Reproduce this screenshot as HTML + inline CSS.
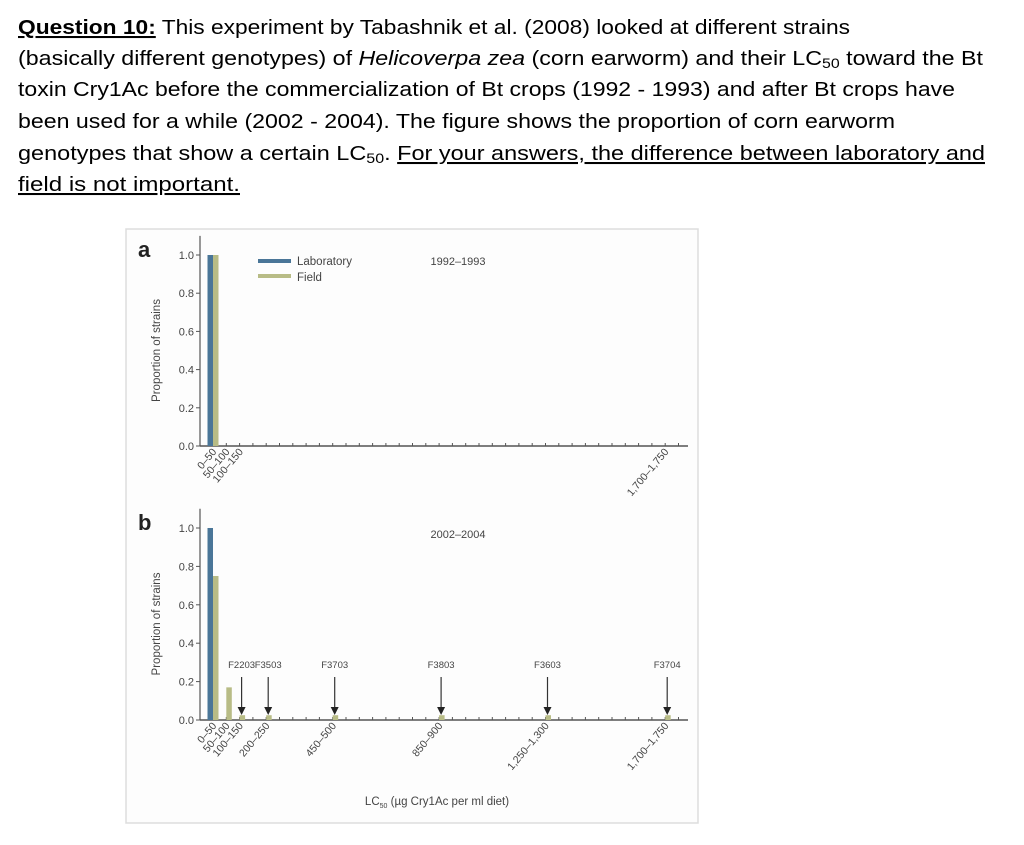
<!DOCTYPE html>
<html><head><meta charset="utf-8">
<style>
html,body{margin:0;padding:0;background:#fff;}
svg{display:block;}
.q{font-family:"Liberation Sans",sans-serif;font-size:20.5px;fill:#000;}
.c{font-family:"Liberation Sans",sans-serif;fill:#444;}
</style></head>
<body>
<svg id="root" width="1024" height="845" viewBox="0 0 1024 845" xmlns="http://www.w3.org/2000/svg">
<g>
<text class="q" x="18" y="34" textLength="832" lengthAdjust="spacingAndGlyphs"><tspan font-weight="bold" text-decoration="underline">Question 10:</tspan> This experiment by Tabashnik et al. (2008) looked at different strains</text>
<text class="q" x="18" y="65" textLength="965" lengthAdjust="spacingAndGlyphs">(basically different genotypes) of <tspan font-style="italic">Helicoverpa zea</tspan> (corn earworm) and their LC<tspan font-size="14" dy="3">50</tspan><tspan dy="-3"> toward   the Bt</tspan></text>
<text class="q" x="18" y="96" textLength="937" lengthAdjust="spacingAndGlyphs">toxin Cry1Ac before the commercialization of Bt crops (1992 - 1993) and after Bt  crops have</text>
<text class="q" x="18" y="128" textLength="877" lengthAdjust="spacingAndGlyphs">been used for a while (2002 - 2004). The figure shows the proportion of corn earworm</text>
<text class="q" x="18" y="160" textLength="967" lengthAdjust="spacingAndGlyphs">genotypes that show a certain LC<tspan font-size="14" dy="3">50</tspan><tspan dy="-3">. </tspan><tspan text-decoration="underline">For your answers, the difference between laboratory and  </tspan></text>
<text class="q" x="18" y="191" textLength="222" lengthAdjust="spacingAndGlyphs" text-decoration="underline">field is not important.</text>
</g>
<rect x="126" y="229" width="572" height="594" fill="#fdfdfd" stroke="#ddd" stroke-width="1.5"/>
<g id="chart"></g>
</svg>
<script>
const binLabels = ["0–50","50–100","100–150","200–250","450–500","850–900","1,250–1,300","1,700–1,750"];
const labelBins = [0,1,2,4,9,17,25,34];
const yTicks = [0.0,0.2,0.4,0.6,0.8,1.0];
const aLabBins = [0];
const aLabVals = [1.0];
const aFieldBins = [0];
const aFieldVals = [1.0];
const bLabBins = [0];
const bLabVals = [1.0];
const bFieldBins = [0,1,2,4,9,17,25,34];
const bFieldVals = [0.75,0.17,0.025,0.025,0.025,0.025,0.025,0.025];
const arrowBins = [2,4,9,17,25,34];
const arrowNames = ["F2203","F3503","F3703","F3803","F3603","F3704"];
const nBins = 36;

const NS="http://www.w3.org/2000/svg";
const g=document.getElementById('chart');
function el(t,a,p){const e=document.createElementNS(NS,t);for(const k in a)e.setAttribute(k,a[k]);(p||g).appendChild(e);return e;}
const x0=200, x1=688;
function xb(i){return 213+i*13.3;}
const LAB="#4a7698", FLD="#b8bc86";

function panel(letter,y0,ypx,title,labB,labV,fB,fV,arrows,showAllLabels){
  const grp=el('g',{});
  
  
  const ys=v=>y0-v*ypx;
  const t=el('text',{x:138,y:y0-ypx*1.0+2,'font-size':22,'font-weight':'bold',fill:'#222','font-family':'Liberation Sans,sans-serif'},grp);
  t.textContent=letter;
  
  
  const ya=el('line',{x1:x0,y1:y0,x2:x0,y2:ys(1.1),stroke:'#555','stroke-width':1.2},grp);
  
  
  yTicks.forEach(v=>{
    el('line',{x1:x0-4,y1:ys(v),x2:x0,y2:ys(v),stroke:'#555'},grp);
    const tt=el('text',{x:x0-6,y:ys(v)+4,'text-anchor':'end','font-size':11,class:'c'},grp);
    tt.textContent=v.toFixed(1);
    
    
  });
  const yt=el('text',{transform:`translate(160,${ys(0.5)}) rotate(-90)`,'text-anchor':'middle','font-size':11.5,class:'c'},grp);
  yt.textContent='Proportion of strains';
  
  
  const xa=el('line',{x1:x0,y1:y0,x2:x1,y2:y0,stroke:'#555','stroke-width':1.5},grp);
  
  
  for(let i=0;i<nBins;i++){el('line',{x1:xb(i),y1:y0-3,x2:xb(i),y2:y0,stroke:'#555'},grp);}
  labB.forEach((b,i)=>{const r=el('rect',{x:xb(b)-5.5,y:ys(labV[i]),width:5.5,height:labV[i]*ypx,fill:LAB},grp);
    
    });
  fB.forEach((b,i)=>{const r=el('rect',{x:xb(b),y:ys(fV[i]),width:5.5,height:fV[i]*ypx,fill:FLD},grp);
    
    });
  labelBins.forEach((b,i)=>{
    if(!showAllLabels && !(i<3||i===7))return;
    const lx=xb(b)+4, ly=y0+6;
    const tt=el('text',{transform:`translate(${lx},${ly}) rotate(-50)`,'text-anchor':'end','font-size':10.5,class:'c'},grp);
    tt.textContent=binLabels[i];
    
    
  });
  const tl=el('text',{x:458,y:ys(1.0)+10,'text-anchor':'middle','font-size':11,class:'c'},grp);
  tl.textContent=title;
  
  
  if(arrows){
    arrowBins.forEach((b,i)=>{
      const ax=xb(b)+2;
      const at=el('text',{x:ax,y:y0-52,'text-anchor':'middle','font-size':9.5,class:'c'},grp);
      at.textContent=arrowNames[i];
      
      
      el('line',{x1:ax,y1:y0-43,x2:ax,y2:y0-12,stroke:'#333','stroke-width':1.2},grp);
      const p=el('path',{d:`M${ax-4},${y0-13} L${ax+4},${y0-13} L${ax},${y0-5} Z`,fill:'#222'},grp);
      
      
    });
  }
  return ys;
}
panel('a',446,191,'1992–1993',aLabBins,aLabVals,aFieldBins,aFieldVals,false,false);
panel('b',720,192,'2002–2004',bLabBins,bLabVals,bFieldBins,bFieldVals,true,true);

const lg=el('g',{});


el('rect',{x:258,y:259,width:33,height:4,fill:LAB},lg);
el('rect',{x:258,y:274,width:33,height:4,fill:FLD},lg);
const l1=el('text',{x:297,y:265,'font-size':11.5,class:'c'},lg);l1.textContent='Laboratory';


const l2=el('text',{x:297,y:281,'font-size':11.5,class:'c'},lg);l2.textContent='Field';



const xt=el('text',{x:437,y:805,'text-anchor':'middle','font-size':11.5,class:'c'});
xt.innerHTML='LC<tspan font-size="7" dy="3">50</tspan><tspan dy="-3"> (µg Cry1Ac per ml diet)</tspan>';


</script>
</body></html>
